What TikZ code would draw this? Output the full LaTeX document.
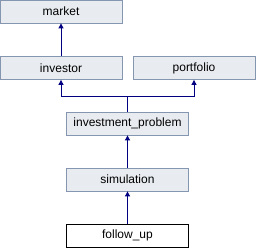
\documentclass[tikz,border=0pt]{standalone}
\usepackage{fontspec}
\setmainfont{Liberation Sans}
\usetikzlibrary{arrows.meta}
\definecolor{boxfill}{RGB}{232,236,240}
\definecolor{boxline}{RGB}{132,150,176}
\definecolor{arrcol}{RGB}{0,0,128}
\tikzset{
  cls/.style={draw=boxline, fill=boxfill, line width=0.8pt, minimum width=122pt, minimum height=23pt, inner sep=0pt, font=\fontsize{12}{14}\selectfont},
  curcls/.style={cls, draw=black, fill=white},
  arr/.style={draw=arrcol, line width=0.9pt, -{Triangle[length=5pt,width=5pt]}}
}
\begin{document}
\begin{tikzpicture}[x=1pt,y=-1pt]
\useasboundingbox (0,0) rectangle (256,248);
\node[cls] (market) at (61,11.5) {market};
\node[cls] (investor) at (61,68) {investor};
\node[cls] (portfolio) at (194,68) {portfolio};
\node[cls] (ip) at (127.5,123.5) {investment\_problem};
\node[cls] (sim) at (127.5,179.5) {simulation};
\node[curcls] (fu) at (127.5,235.5) {follow\_up};
\coordinate (j) at (127.5,96);
\draw[arr] (investor.north) -- (market.south);
\draw[arr] (ip.north) -- (j) -| (investor.south);
\draw[arr] (j) -| (portfolio.south);
\draw[arr] (sim.north) -- (ip.south);
\draw[arr] (fu.north) -- (sim.south);
\end{tikzpicture}
\end{document}
